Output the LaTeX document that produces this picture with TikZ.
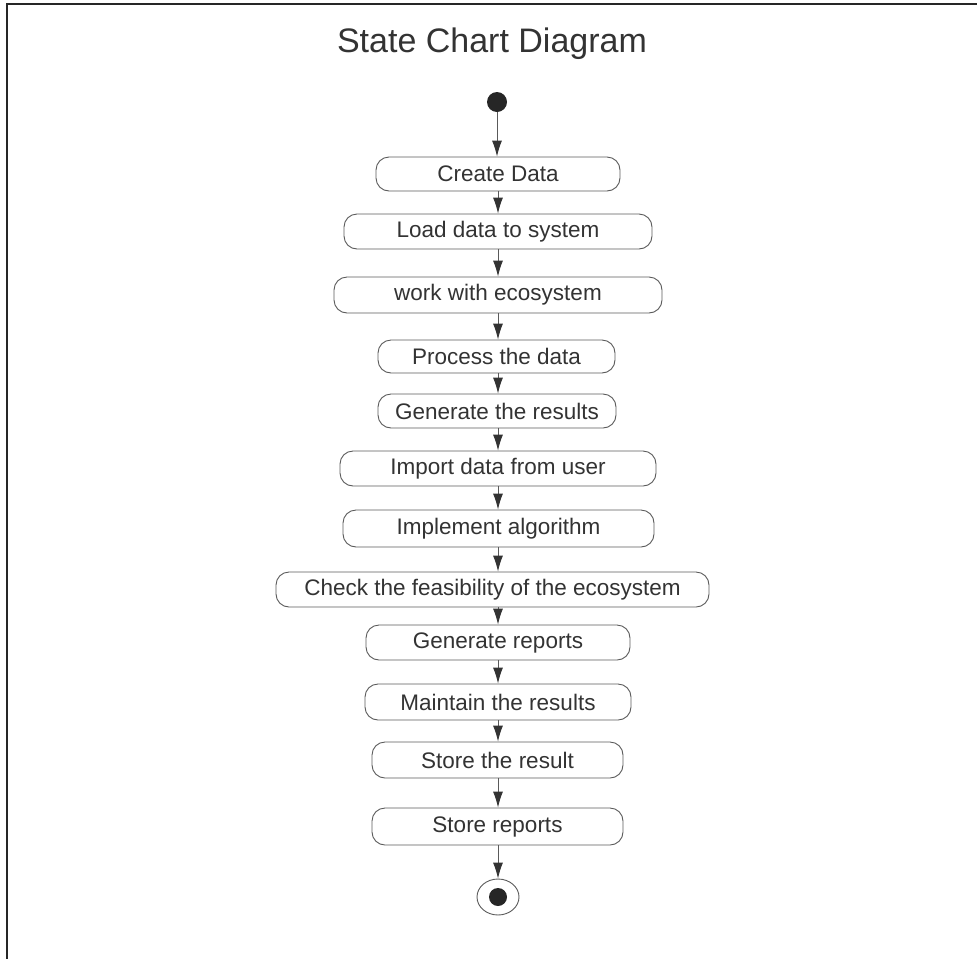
\documentclass[tikz,border=0pt]{standalone}
\usepackage{fontspec}
\setmainfont{Liberation Sans}
\usetikzlibrary{arrows.meta,shapes.geometric}
\definecolor{txt}{HTML}{333333}
\definecolor{edge}{HTML}{5A5A5A}
\tikzset{
  statebox/.style={draw=edge, line width=0.9pt, rounded corners=13pt, inner sep=0pt,
    font=\fontsize{22.5}{26}\selectfont, text=txt, fill=white},
  arr/.style={draw=edge, line width=0.9pt,
    -{Latex[length=16pt,width=10pt,fill=black!80,color=black!80]}},
  frameline/.style={draw=black!85, line width=1.6pt}
}
\begin{document}
\begin{tikzpicture}[x=1pt,y=-1pt]
\useasboundingbox (0,0) rectangle (977,959);
\coordinate (tl) at (7,4);
\coordinate (tr) at (977,4);
\coordinate (bl) at (7,959);
\draw[frameline] (tr) -- (tl) -- (bl);
\coordinate (spine) at (498,0);

\node (title) at (492,44) {\fontsize{34}{40}\selectfont\color{txt}State Chart Diagram};

\node[circle, fill=black!85, minimum size=20pt, inner sep=0pt] (init) at (497,102) {};

\node[statebox, minimum width=244pt, minimum height=34pt] (s1) at (498,174) {Create Data};
\node[statebox, minimum width=308pt, minimum height=35pt] (s2) at (498,231.5) {Load data to system};
\node[statebox, minimum width=328pt, minimum height=36pt] (s3) at (498,295) {work with ecosystem};
\node[statebox, minimum width=237pt, minimum height=33pt] (s4) at (496.5,356.5) {Process the data};
\node[statebox, minimum width=238pt, minimum height=34pt] (s5) at (497,411) {Generate the results};
\node[statebox, minimum width=316pt, minimum height=35pt] (s6) at (498,468.5) {Import data from user};
\node[statebox, minimum width=311pt, minimum height=37pt] (s7) at (498.5,528.5) {Implement algorithm};
\node[statebox, minimum width=433pt, minimum height=35pt] (s8) at (492.5,589.5) {Check the feasibility of the ecosystem};
\node[statebox, minimum width=264pt, minimum height=35pt] (s9) at (498,642.5) {Generate reports};
\node[statebox, minimum width=266pt, minimum height=36pt] (s10) at (498,702) {Maintain the results};
\node[statebox, minimum width=251pt, minimum height=36pt] (s11) at (497.5,760) {Store the result};
\node[statebox, minimum width=251pt, minimum height=37pt] (s12) at (497.5,826.5) {Store reports};

\node[ellipse, draw=edge, line width=0.9pt, minimum width=42pt, minimum height=36pt, inner sep=0pt] (final) at (498,897) {};
\node[circle, fill=black!85, minimum size=18pt, inner sep=0pt] (finaldot) at (final.center) {};

\draw[arr] (init.south) -- (s1.north -| init.south);
\foreach \a/\b in {s1/s2,s2/s3,s3/s4,s4/s5,s5/s6,s6/s7,s7/s8,s8/s9,s9/s10,s10/s11,s11/s12}{
  \draw[arr] (\a.south -| spine) -- (\b.north -| spine);
}
\draw[arr] (s12.south -| spine) -- (final.north);
\end{tikzpicture}
\end{document}
